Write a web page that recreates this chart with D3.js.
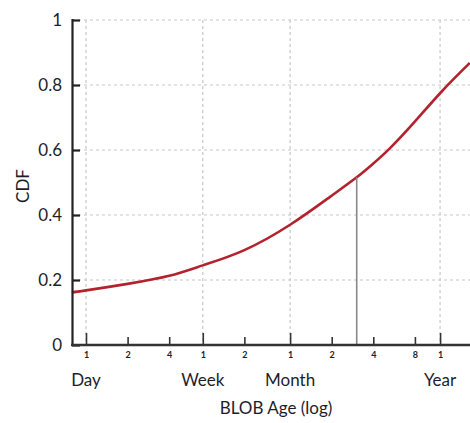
<!DOCTYPE html>
<html>
<head>
<meta charset="utf-8">
<script src="https://cdn.jsdelivr.net/npm/d3@7"></script>
<style>
  html, body { margin: 0; padding: 0; background: #fff; }
  text { font-family: Lato, "Open Sans", sans-serif; fill: #1e1e2a; }
</style>
</head>
<body>
<svg id="chart" width="470" height="423"></svg>
<script>
// Data (x in days, log scale)
const ageDays = [0.79, 1, 2, 4, 7, 14, 30, 58, 91, 119, 158, 236, 375, 600];
const cdfValues = [0.162, 0.168, 0.188, 0.213, 0.245, 0.292, 0.37, 0.455, 0.516, 0.557, 0.605, 0.684, 0.78, 0.868];
const markerDay = 91;
const xTickDays = [1, 2, 4, 7, 14, 30, 60, 120, 240, 365];
const xTickLabels = ["1", "2", "4", "1", "2", "1", "2", "4", "8", "1"];
const majorDays = [1, 7, 30, 365];
const majorLabels = ["Day", "Week", "Month", "Year"];
const yTicks = [0, 0.2, 0.4, 0.6, 0.8, 1];
const yTickLabels = ["0", "0.2", "0.4", "0.6", "0.8", "1"];

(function () {
const svg = d3.select("#chart");
const mLeft = 72, mRight = 470, mTop = 20, mBottom = 345;

const x = d3.scaleLog().domain([0.792, 601]).range([mLeft, mRight]);
const y = d3.scaleLinear().domain([0, 1]).range([mBottom, mTop]);

// grid
const grid = svg.append("g").attr("stroke", "#c8c8c8").attr("stroke-width", 1.2).attr("stroke-dasharray", "3,3");
grid.selectAll("line.h").data(yTicks.filter(d => d > 0)).enter().append("line")
  .attr("x1", mLeft).attr("x2", mRight).attr("y1", d => y(d)).attr("y2", d => y(d));
grid.selectAll("line.v").data(majorDays).enter().append("line")
  .attr("x1", d => x(d)).attr("x2", d => x(d)).attr("y1", mTop).attr("y2", mBottom);

// curve
const line = d3.line().x((d, i) => x(ageDays[i])).y(d => y(d)).curve(d3.curveNatural);
svg.append("path").datum(cdfValues).attr("d", line)
  .attr("fill", "none").attr("stroke", "#b3232e").attr("stroke-width", 2.6);

// marker drop line
const markerIdx = ageDays.indexOf(markerDay);
svg.append("line").attr("x1", x(markerDay)).attr("x2", x(markerDay))
  .attr("y1", y(cdfValues[markerIdx])).attr("y2", mBottom)
  .attr("stroke", "#888").attr("stroke-width", 1.6);

// y axis
const yAxis = d3.axisLeft(y).tickValues(yTicks).tickSize(-8).tickPadding(10)
  .tickFormat((d, i) => yTickLabels[i]);
const gy = svg.append("g").attr("transform", `translate(${mLeft},0)`).call(yAxis);
gy.select(".domain").attr("stroke", "#222").attr("stroke-width", 2.2).attr("d", `M0.5,${mTop - 1}V${mBottom + 1}`);
gy.selectAll(".tick line").attr("stroke", "#222").attr("stroke-width", 2.2);
gy.selectAll(".tick text").style("font-size", "17px").attr("font-family", null).attr("fill", "#1e1e2a");

// x axis
const xAxis = d3.axisBottom(x).tickValues(xTickDays)
  .tickSize(0).tickPadding(7)
  .tickFormat((d, i) => xTickLabels[i]);
const gx = svg.append("g").attr("transform", `translate(0,${mBottom})`).call(xAxis);
gx.select(".domain").attr("stroke", "#333").attr("stroke-width", 2.6).attr("d", `M${mLeft - 1},0H${mRight}`);
gx.selectAll(".tick text").style("font-size", "9px").attr("font-weight", "bold").attr("fill", "#3a2a2a");
gx.selectAll(".tick").append("line")
  .attr("y1", 0).attr("y2", d => majorDays.includes(d) ? -12 : -8)
  .attr("stroke", "#333").attr("stroke-width", 1.6);

// major labels
svg.selectAll("text.major").data(majorDays).enter().append("text")
  .attr("class", "major")
  .attr("x", d => x(d)).attr("y", 386)
  .attr("text-anchor", "middle").style("font-size", "17px")
  .text((d, i) => majorLabels[i]);

// axis titles
svg.append("text").attr("x", 276).attr("y", 414).attr("text-anchor", "middle")
  .style("font-size", "17px").text("BLOB Age (log)");
svg.append("text").attr("transform", "translate(29,186) rotate(-90)")
  .attr("text-anchor", "middle").style("font-size", "17px").text("CDF");
})();
</script>
</body>
</html>
